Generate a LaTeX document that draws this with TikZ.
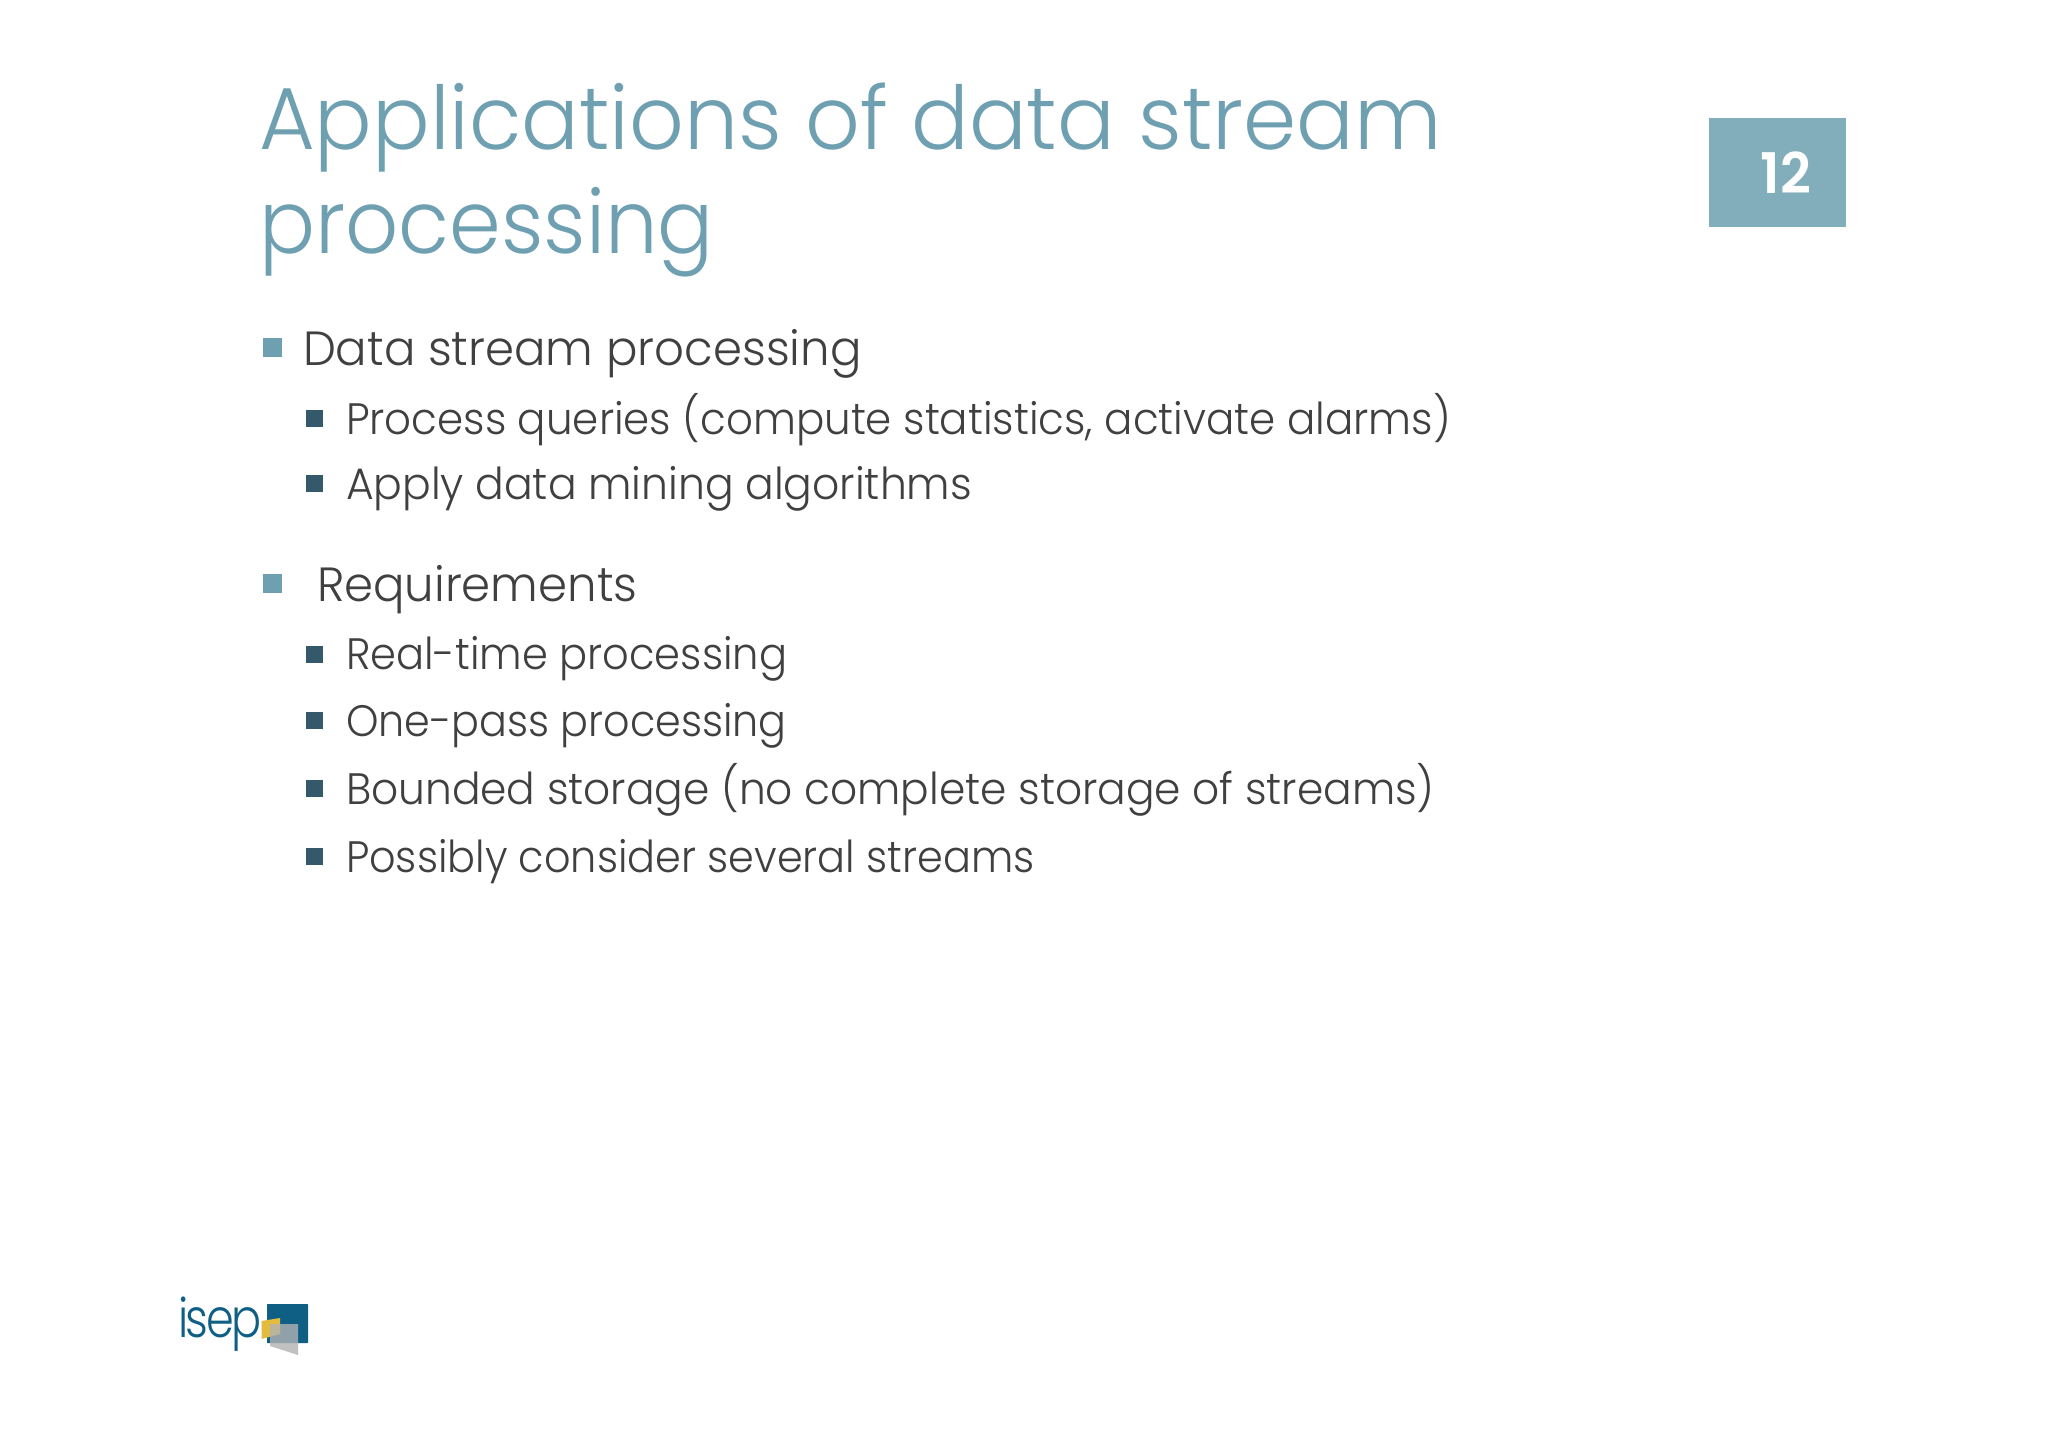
\documentclass[tikz,border=0pt]{standalone}
\usepackage{graphicx}
\usepackage{fontspec}
\setmainfont{Poppins}[UprightFont=* Light,BoldFont=* SemiBold,FakeStretch=0.96]
\newcommand{\sx}[2]{\scalebox{#1}[1]{#2}}
\definecolor{titlec}{HTML}{6FA0B2}
\definecolor{bodyc}{HTML}{404040}
\definecolor{boxc}{HTML}{82AEBC}
\definecolor{bulA}{HTML}{6FA0B2}
\definecolor{bulB}{HTML}{33596A}
\definecolor{logoB}{HTML}{0F5F85}
\definecolor{logoY}{HTML}{E3BC3F}
\tikzset{
  txt/.style={anchor=base west,inner sep=0pt,outer sep=0pt},
  titletxt/.style={txt,text=titlec,font=\fontsize{88}{88}\selectfont},
  lvlA/.style={txt,text=bodyc,font=\fontsize{48}{48}\selectfont},
  lvlB/.style={txt,text=bodyc,font=\fontsize{44}{44}\selectfont},
  bulletA/.style={fill=bulA,draw=none,minimum size=19pt,inner sep=0pt},
  bulletB/.style={fill=bulB,draw=none,minimum size=17pt,inner sep=0pt},
}
\begin{document}
\begin{tikzpicture}[x=1pt,y=-1pt]
\useasboundingbox (0,0) rectangle (2048,1447);
\fill[white] (0,0) rectangle (2048,1447);
\node[titletxt] (t1) at (259,150) {\sx{1.012}{Applications of data stream}};
\node[titletxt] (t2) at (259.5,254) {\sx{0.983}{processing}};
\node[fill=boxc,minimum width=137pt,minimum height=109pt,inner sep=0pt] (pg) at (1777.5,172.5) {};
\node[anchor=base,inner sep=0pt,text=white,font=\fontsize{56}{56}\selectfont\bfseries] (pgn) at (1786,194) {12};
\node[bulletA] (b1) at (272,347.5) {};
\node[lvlA] (a1) at (303,365) {\sx{1.012}{Data stream processing}};
\node[bulletB] (b2) at (314.5,418) {};
\node[lvlB] (s1) at (346,434) {\sx{0.994}{Process queries (compute statistics, activate alarms)}};
\node[bulletB] (b3) at (314.5,483) {};
\node[lvlB] (s2) at (346,499.5) {\sx{1.006}{Apply data mining algorithms}};
\node[bulletA] (b4) at (272,583.5) {};
\node[lvlA] (a2) at (317,601) {\sx{1.012}{Requirements}};
\node[bulletB] (b5) at (314.5,654) {};
\node[lvlB] (s3) at (346,669.5) {\sx{0.985}{Real-time processing}};
\node[bulletB] (b6) at (314.5,720) {};
\node[lvlB] (s4) at (346,736) {\sx{0.977}{One-pass processing}};
\node[bulletB] (b7) at (314.5,788.5) {};
\node[lvlB] (s5) at (346,804) {\sx{1.002}{Bounded storage (no complete storage of streams)}};
\node[bulletB] (b8) at (314.5,856.5) {};
\node[lvlB] (s6) at (346,872) {\sx{0.98}{Possibly consider several streams}};
% logo
\node[txt,text=logoB,font=\fontsize{54}{54}\selectfont] (logo) at (178,1337) {\sx{0.86}{\addfontfeature{LetterSpace=-5}isep}};
\fill[logoB,rounded corners=0.5pt] (267,1304) rectangle (308,1343);
\fill[logoY] (261.5,1321) -- (280,1318) -- (280,1334) -- (261.5,1339) -- cycle;
\fill[gray!60,opacity=.8] (270,1324) -- (298,1324) -- (298,1355) -- (270,1346) -- cycle;
\end{tikzpicture}
\end{document}
